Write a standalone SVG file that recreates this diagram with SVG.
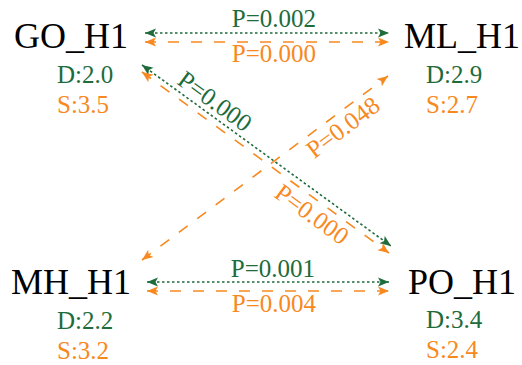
<svg xmlns="http://www.w3.org/2000/svg" width="522" height="365" viewBox="0 0 522 365">
<style>
.name{font-family:"Liberation Serif","Times New Roman",serif;font-size:36px;fill:#000}
.g{font-family:"Liberation Serif","Times New Roman",serif;fill:#1e6b3b;font-size:25px}
.o{font-family:"Liberation Serif","Times New Roman",serif;fill:#f7891f;font-size:25px}
.gl{stroke:#1e6b3b;stroke-width:1.6;stroke-dasharray:2.5,2.5;fill:none}
.ol{stroke:#f7891f;stroke-width:1.6;stroke-dasharray:11,12;fill:none}
</style>
<defs>
<marker id="ag" markerUnits="userSpaceOnUse" markerWidth="12" markerHeight="10" refX="11" refY="4.5" orient="auto-start-reverse" viewBox="0 0 12 9">
<path d="M0,0 L11,4.5 L0,9 L2.5,4.5 z" fill="#1e6b3b"/>
</marker>
<marker id="ao" markerUnits="userSpaceOnUse" markerWidth="12" markerHeight="10" refX="11" refY="4.5" orient="auto-start-reverse" viewBox="0 0 12 9">
<path d="M0,0 L11,4.5 L0,9 L2.5,4.5 z" fill="#f7891f"/>
</marker>
</defs>
<g id="connectors">
<line class="gl" x1="145" y1="33" x2="389" y2="33" marker-start="url(#ag)" marker-end="url(#ag)"/>
<line class="ol" x1="145" y1="42" x2="389" y2="42" marker-start="url(#ao)" marker-end="url(#ao)"/>
<line class="gl" x1="147" y1="282" x2="389" y2="282" marker-start="url(#ag)" marker-end="url(#ag)"/>
<line class="ol" x1="147" y1="291" x2="389" y2="291" marker-start="url(#ao)" marker-end="url(#ao)"/>
<line class="gl" x1="142" y1="65" x2="391" y2="246" marker-start="url(#ag)" marker-end="url(#ag)"/>
<line class="ol" x1="142" y1="72" x2="389" y2="253" marker-start="url(#ao)" marker-end="url(#ao)"/>
<line class="ol" x1="142" y1="260" x2="388" y2="76" marker-start="url(#ao)" marker-end="url(#ao)"/>
<text class="g" x="274" y="27" text-anchor="middle">P=0.002</text>
<text class="o" x="274" y="62" text-anchor="middle">P=0.000</text>
<text class="g" x="273" y="277" text-anchor="middle">P=0.001</text>
<text class="o" x="274" y="312" text-anchor="middle">P=0.004</text>
<text class="g" text-anchor="middle" transform="translate(210,108) rotate(36)">P=0.000</text>
<text class="o" text-anchor="middle" transform="translate(348,134) rotate(-37)">P=0.048</text>
<text class="o" text-anchor="middle" transform="translate(307,221) rotate(36)">P=0.000</text>
</g>
<g id="GO_H1">
<text class="name" x="71" y="48" text-anchor="middle">GO_H1</text>
<text class="g" x="57" y="83">D:2.0</text>
<text class="o" x="57" y="113">S:3.5</text>
</g>
<g id="ML_H1">
<text class="name" x="462" y="48" text-anchor="middle">ML_H1</text>
<text class="g" x="426" y="83">D:2.9</text>
<text class="o" x="426" y="113">S:2.7</text>
</g>
<g id="MH_H1">
<text class="name" x="71" y="294" text-anchor="middle">MH_H1</text>
<text class="g" x="57" y="329">D:2.2</text>
<text class="o" x="57" y="359">S:3.2</text>
</g>
<g id="PO_H1">
<text class="name" x="462" y="294" text-anchor="middle">PO_H1</text>
<text class="g" x="426" y="328">D:3.4</text>
<text class="o" x="426" y="358">S:2.4</text>
</g>
</svg>
